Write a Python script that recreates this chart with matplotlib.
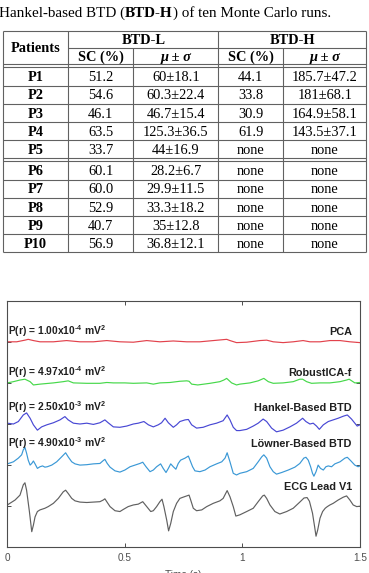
"""
Table of BTD-L / BTD-H results plus the separated-signal traces for patient V1.
"""
import numpy as np
import matplotlib
matplotlib.use("Agg")
import matplotlib.pyplot as plt

plt.rcParams["mathtext.fontset"] = "custom"
plt.rcParams["mathtext.rm"] = "Liberation Sans:bold"
plt.rcParams["mathtext.bf"] = "Liberation Sans:bold"
plt.rcParams["mathtext.default"] = "bf"

W, H = 369, 573

# ---- table data ----
patients = ["P1", "P2", "P3", "P4", "P5", "P6", "P7", "P8", "P9", "P10"]
sc_l = [51.2, 54.6, 46.1, 63.5, 33.7, 60.1, 60.0, 52.9, 40.7, 56.9]
mu_l = [60, 60.3, 46.7, 125.3, 44, 28.2, 29.9, 33.3, 35, 36.8]
sd_l = [18.1, 22.4, 15.4, 36.5, 16.9, 6.7, 11.5, 18.2, 12.8, 12.1]
sc_h = [44.1, 33.8, 30.9, 61.9, None, None, None, None, None, None]
mu_h = [185.7, 181, 164.9, 143.5, None, None, None, None, None, None]
sd_h = [47.2, 68.1, 58.1, 37.1, None, None, None, None, None, None]

# ---- traces: (time s, amplitude) ----
pca = [(0, 0.00), (0.040, 0.00), (0.075, 0.04), (0.089, 0.06), (0.111, 0.03),
       (0.139, 0.00), (0.196, 0.00), (0.252, 0.03), (0.309, 0.00), (0.366, 0.00),
       (0.423, 0.03), (0.479, 0.00), (0.536, -0.01), (0.593, 0.03), (0.649, 0.00),
       (0.706, 0.02), (0.763, 0.00), (0.819, 0.00), (0.876, 0.03), (0.933, 0.06),
       (0.947, 0.03), (0.975, -0.02), (1.018, -0.01), (1.074, 0.03), (1.103, 0.04),
       (1.131, 0.00), (1.173, -0.02), (1.216, 0.00), (1.258, 0.03), (1.287, 0.00),
       (1.330, 0.00), (1.372, 0.03), (1.415, 0.03), (1.457, 0.00), (1.5, -0.02)]

robustica = [(0, 0.00), (0.026, 0.03), (0.054, 0.07), (0.075, 0.09), (0.097, 0.03),
             (0.111, -0.05), (0.139, -0.03), (0.196, 0.00), (0.238, 0.03), (0.259, 0.05),
             (0.281, 0.00), (0.338, -0.01), (0.394, -0.01), (0.423, 0.01), (0.451, 0.00),
             (0.500, 0.00), (0.536, -0.01), (0.593, 0.00), (0.621, -0.03), (0.649, 0.00),
             (0.692, 0.01), (0.734, 0.04), (0.763, 0.05), (0.773, 0.04), (0.784, -0.03),
             (0.810, -0.05), (0.862, -0.01), (0.904, 0.03), (0.921, 0.07), (0.933, 0.11),
             (0.954, 0.00), (0.975, -0.05), (0.989, -0.03), (1.032, 0.00), (1.067, 0.05),
             (1.091, 0.11), (1.110, 0.03), (1.131, -0.01), (1.173, 0.00), (1.216, 0.03),
             (1.244, 0.09), (1.256, 0.09), (1.273, 0.03), (1.294, -0.01), (1.330, 0.00),
             (1.372, 0.00), (1.415, 0.03), (1.443, 0.07), (1.454, 0.09), (1.478, 0.00),
             (1.5, 0.01)]

hankel = [(0, 0.02), (0.026, 0.00), (0.047, 0.06), (0.068, 0.22), (0.082, 0.27),
          (0.097, 0.14), (0.111, -0.02), (0.128, -0.15), (0.146, -0.07), (0.168, -0.02),
          (0.196, 0.03), (0.224, 0.10), (0.245, 0.18), (0.259, 0.10), (0.281, 0.02),
          (0.309, 0.00), (0.338, 0.02), (0.366, -0.01), (0.394, 0.03), (0.415, 0.10),
          (0.429, 0.03), (0.451, -0.07), (0.479, -0.08), (0.508, -0.05), (0.536, 0.00),
          (0.557, 0.02), (0.581, 0.06), (0.600, -0.02), (0.621, -0.07), (0.642, -0.02),
          (0.656, 0.03), (0.671, 0.14), (0.685, 0.03), (0.706, -0.08), (0.720, -0.02),
          (0.734, 0.06), (0.756, 0.10), (0.770, 0.11), (0.784, -0.02), (0.805, -0.10),
          (0.833, -0.08), (0.862, -0.02), (0.890, 0.02), (0.918, 0.08), (0.935, 0.22),
          (0.947, 0.10), (0.961, -0.08), (0.975, -0.16), (0.989, -0.16), (1.018, -0.13),
          (1.046, -0.05), (1.067, 0.02), (1.088, 0.12), (1.103, 0.06), (1.124, -0.10),
          (1.145, -0.19), (1.173, -0.15), (1.202, -0.07), (1.230, 0.02), (1.256, 0.14),
          (1.270, 0.06), (1.287, 0.00), (1.301, 0.02), (1.315, -0.05), (1.327, -0.13),
          (1.344, -0.02), (1.365, 0.06), (1.386, 0.10), (1.407, 0.14), (1.429, 0.19),
          (1.446, 0.22), (1.464, 0.12), (1.478, 0.02), (1.488, -0.05), (1.5, -0.02)]

lowner = [(0, 0.03), (0.026, 0.08), (0.047, 0.17), (0.061, 0.25), (0.068, 0.37),
          (0.075, 0.43), (0.082, 0.29), (0.089, 0.12), (0.097, 0.00), (0.104, 0.04),
          (0.111, 0.10), (0.118, 0.03), (0.128, -0.08), (0.139, -0.04), (0.150, -0.02),
          (0.160, -0.05), (0.170, -0.04), (0.189, 0.00), (0.210, 0.08), (0.231, 0.20),
          (0.248, 0.30), (0.259, 0.20), (0.274, 0.08), (0.288, 0.03), (0.309, 0.00),
          (0.338, 0.01), (0.366, 0.03), (0.394, 0.04), (0.408, 0.11), (0.415, 0.14),
          (0.425, 0.04), (0.437, -0.05), (0.458, -0.14), (0.479, -0.17), (0.500, -0.12),
          (0.522, -0.04), (0.543, 0.00), (0.564, 0.04), (0.576, 0.07), (0.590, -0.04),
          (0.607, -0.16), (0.621, -0.12), (0.635, -0.04), (0.652, 0.03), (0.663, -0.08),
          (0.675, -0.18), (0.685, -0.08), (0.695, 0.03), (0.706, -0.04), (0.717, -0.10),
          (0.727, 0.04), (0.737, 0.12), (0.756, 0.17), (0.770, 0.22), (0.777, 0.12),
          (0.788, -0.04), (0.798, -0.14), (0.819, -0.16), (0.841, -0.12), (0.862, -0.04),
          (0.890, 0.03), (0.912, 0.08), (0.926, 0.17), (0.935, 0.30), (0.947, 0.08),
          (0.961, -0.20), (0.975, -0.24), (0.989, -0.20), (1.018, -0.16), (1.046, -0.08),
          (1.067, 0.08), (1.082, 0.20), (1.091, 0.25), (1.103, 0.17), (1.117, -0.04),
          (1.131, -0.16), (1.145, -0.22), (1.167, -0.18), (1.195, -0.12), (1.223, -0.05),
          (1.244, 0.04), (1.261, 0.17), (1.270, 0.19), (1.280, 0.12), (1.290, -0.04),
          (1.298, -0.20), (1.304, -0.27), (1.313, -0.16), (1.322, 0.00), (1.332, -0.08),
          (1.344, -0.12), (1.355, -0.04), (1.365, -0.02), (1.379, -0.04), (1.393, 0.03),
          (1.415, 0.08), (1.436, 0.17), (1.446, 0.19), (1.460, 0.11), (1.478, 0.00),
          (1.492, -0.04), (1.5, -0.02)]

ecg_v1 = [(0, 0.03), (0.033, 0.15), (0.054, 0.27), (0.068, 0.52), (0.075, 0.57),
          (0.082, 0.39), (0.094, -0.13), (0.104, -0.62), (0.111, -0.46), (0.118, -0.26),
          (0.128, -0.13), (0.139, -0.09), (0.160, -0.05), (0.174, -0.01), (0.196, 0.07),
          (0.217, 0.19), (0.238, 0.35), (0.248, 0.39), (0.259, 0.31), (0.274, 0.19),
          (0.288, 0.13), (0.309, 0.10), (0.338, 0.09), (0.394, 0.11), (0.408, 0.15),
          (0.415, 0.18), (0.423, 0.11), (0.437, -0.01), (0.458, -0.11), (0.479, -0.13),
          (0.493, -0.08), (0.514, -0.01), (0.536, 0.03), (0.557, 0.05), (0.576, 0.11),
          (0.593, -0.01), (0.610, -0.13), (0.621, -0.11), (0.635, -0.01), (0.649, 0.11),
          (0.658, 0.17), (0.666, -0.01), (0.678, -0.34), (0.686, -0.60), (0.695, -0.42),
          (0.706, -0.13), (0.720, 0.07), (0.734, 0.19), (0.748, 0.22), (0.763, 0.25),
          (0.773, 0.27), (0.780, 0.15), (0.791, -0.05), (0.805, -0.11), (0.827, -0.09),
          (0.848, -0.01), (0.876, 0.07), (0.904, 0.13), (0.918, 0.19), (0.935, 0.38),
          (0.947, 0.23), (0.961, -0.01), (0.972, -0.24), (0.989, -0.21), (1.018, -0.13),
          (1.046, -0.05), (1.067, 0.11), (1.086, 0.25), (1.093, 0.27), (1.103, 0.19),
          (1.117, 0.03), (1.138, -0.13), (1.159, -0.19), (1.188, -0.13), (1.216, -0.05),
          (1.244, 0.10), (1.262, 0.20), (1.275, 0.21), (1.285, 0.12), (1.298, -0.17),
          (1.307, -0.50), (1.313, -0.73), (1.320, -0.58), (1.330, -0.29), (1.341, -0.13),
          (1.352, -0.05), (1.361, -0.01), (1.372, 0.03), (1.386, 0.07), (1.407, 0.15),
          (1.429, 0.22), (1.443, 0.25), (1.457, 0.15), (1.471, 0.03), (1.486, -0.01),
          (1.5, 0.00)]

trace_names = ["PCA", "RobustICA-f", "Hankel-Based BTD", "Löwner-Based BTD", "ECG Lead V1"]
power_exp = [(1.00, -4), (4.97, -4), (2.50, -3), (4.90, -3), None]
traces = [pca, robustica, hankel, lowner, ecg_v1]
colors = ["#e2424c", "#46d84a", "#4848d4", "#3a98d6", "#606060"]


def fmt_pm(m, s):
    if m is None:
        return "none"
    return f"{m:g}\u00b1{s:g}"


def draw_table(fig):
    ax = fig.add_axes([0, 0, 1, 1])
    ax.set_xlim(0, W)
    ax.set_ylim(H, 0)
    ax.axis("off")
    ax.patch.set_visible(False)

    serif = "Liberation Serif"
    fs = 10.4
    fc = 10.9

    # caption (BTD-H bold)
    t1 = ax.text(-1, 17, "Hankel-based BTD (", family=serif, fontsize=fc, va="baseline")
    t2 = ax.annotate("BTD-H", xy=(1, 0), xycoords=t1, va="bottom", ha="left",
                     family=serif, fontsize=fc, weight="bold")
    ax.annotate(") of ten Monte Carlo runs.", xy=(1, 0), xycoords=t2, va="bottom",
                ha="left", family=serif, fontsize=fc)

    xl, xr = 2.7, 366
    cols = [2.7, 68.3, 133.3, 218.3, 283.3, 366]
    top, mid, dbl = 31, 48, 64
    rh = 18.2
    r0 = dbl + 3.4
    lc, lw = "0.38", 0.8

    # row boundaries
    bounds = []
    y = r0
    for i in range(len(patients)):
        if i == 5:
            y += 3
        bounds.append(y)
        y += rh
    bottom = y

    ax.hlines([top, dbl, dbl + 3.4], xl, xr, color=lc, lw=lw)
    ax.hlines(mid, cols[1], xr, color=lc, lw=lw)
    for i, b in enumerate(bounds):
        if i == 0:
            continue
        ax.hlines(b, xl, xr, color=lc, lw=lw)
        if i == 5:
            ax.hlines(b - 3, xl, xr, color=lc, lw=lw)
    ax.hlines(bottom, xl, xr, color=lc, lw=lw)
    for j, c in enumerate(cols):
        y0 = mid if j in (2, 4) else top
        ax.vlines(c, y0, bottom, color=lc, lw=lw)

    centers = [(cols[k] + cols[k + 1]) / 2 for k in range(5)]
    off = 4.7
    ax.text(centers[0], (top + dbl) / 2 + off, "Patients", family=serif, fontsize=fs,
            weight="bold", ha="center", va="baseline")
    ax.text((cols[1] + cols[3]) / 2, (top + mid) / 2 + off, "BTD-L", family=serif,
            fontsize=fs, weight="bold", ha="center", va="baseline")
    ax.text((cols[3] + cols[5]) / 2, (top + mid) / 2 + off, "BTD-H", family=serif,
            fontsize=fs, weight="bold", ha="center", va="baseline")
    for k in (1, 3):
        ax.text(centers[k], (mid + dbl) / 2 + off, "SC (%)", family=serif, fontsize=fs,
                weight="bold", ha="center", va="baseline")
        ax.text(centers[k + 1], (mid + dbl) / 2 + off, "\u03bc \u00b1 \u03c3", family=serif,
                fontsize=fs, weight="bold", style="italic", ha="center", va="baseline")

    for i, p in enumerate(patients):
        yc = bounds[i] + rh / 2 + off
        cells = [p,
                 f"{sc_l[i]:.1f}",
                 fmt_pm(mu_l[i], sd_l[i]),
                 "none" if sc_h[i] is None else f"{sc_h[i]:.1f}",
                 fmt_pm(mu_h[i], sd_h[i])]
        for k, txt in enumerate(cells):
            ax.text(centers[k], yc, txt, family=serif, fontsize=fs,
                    weight="bold" if k == 0 else "normal", ha="center", va="baseline")


def draw_traces(fig):
    ax = fig.add_axes([7.3 / W, 1 - 547.3 / H, 352.7 / W, 246.6 / H])
    offsets = [5, 4, 3, 2, 1]
    for pts, c, off in zip(traces, colors, offsets):
        t, v = np.array(pts).T
        ax.plot(t, v + off, color=c, lw=0.85)

    sans = "Liberation Sans"
    fs = 7.8
    label_y = [5.16, 4.175, 3.32, 2.45, 1.395]
    for name, pw, ly in zip(trace_names, power_exp, label_y):
        ax.text(1.465, ly, name, family=sans, fontsize=fs, weight="bold",
                ha="right", va="baseline", color="0.12")
        if pw is not None:
            ax.text(0.003, ly, f"P(r) = {pw[0]:.2f}x10$^{{\\text{{{pw[1]}}}}}$ mV$^2$",
                    family=sans, fontsize=7.4, weight="bold", ha="left", va="baseline",
                    color="0.12")

    ax.set_xlim(0, 1.5)
    ax.set_ylim(0, 6)
    ax.set_xticks([0, 0.5, 1, 1.5])
    ax.set_xticklabels(["0", "0.5", "1", "1.5"])
    ax.set_yticks(offsets)
    ax.set_yticklabels([])
    ax.tick_params(direction="in", length=3, width=0.7, top=True, right=True,
                   colors="0.3", labelcolor="0.3", labelsize=7.2, pad=4)
    for lab in ax.get_xticklabels():
        lab.set_family(sans)
    for s in ax.spines.values():
        s.set_color("0.3")
        s.set_linewidth(0.8)
    ax.set_xlabel("Time (s)", family=sans, fontsize=7.2, color="0.3", labelpad=5)


def main():
    fig = plt.figure(figsize=(W / 100, H / 100), dpi=100)
    draw_table(fig)
    draw_traces(fig)
    fig.savefig("out.png", dpi=100)
    plt.close(fig)


if __name__ == "__main__":
    main()
